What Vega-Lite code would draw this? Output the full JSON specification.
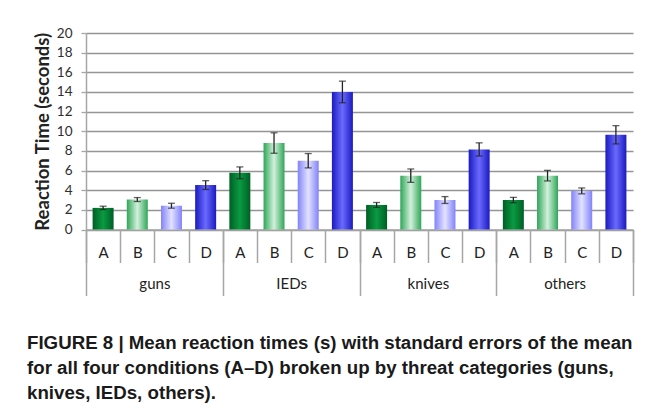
{
  "$schema": "https://vega.github.io/schema/vega-lite/v6.json",
  "width": 547,
  "height": 196.5,
  "padding": {"left": 27, "top": 26, "right": 10, "bottom": 5},
  "background": "white",
  "config": {"view": {"stroke": null}},
  "title": {
    "text": ["FIGURE 8 | Mean reaction times (s) with standard errors of the mean", "for all four conditions (A–D) broken up by threat categories (guns,", "knives, IEDs, others)."],
    "orient": "bottom",
    "anchor": "start",
    "frame": "group",
    "dx": -59,
    "offset": 38,
    "font": "Liberation Sans",
    "fontSize": 18.7,
    "fontWeight": "bold",
    "lineHeight": 25,
    "color": "#1a1a1a"
  },
  "data": {
    "values": [
      {"group": "guns", "cond": "A", "bar": "guns|A", "mean": 2.2, "se": 0.17},
      {"group": "guns", "cond": "B", "bar": "guns|B", "mean": 3.05, "se": 0.2},
      {"group": "guns", "cond": "C", "bar": "guns|C", "mean": 2.42, "se": 0.25},
      {"group": "guns", "cond": "D", "bar": "guns|D", "mean": 4.52, "se": 0.45},
      {"group": "IEDs", "cond": "A", "bar": "IEDs|A", "mean": 5.77, "se": 0.6},
      {"group": "IEDs", "cond": "B", "bar": "IEDs|B", "mean": 8.8, "se": 1.04},
      {"group": "IEDs", "cond": "C", "bar": "IEDs|C", "mean": 7.0, "se": 0.73},
      {"group": "IEDs", "cond": "D", "bar": "IEDs|D", "mean": 14.0, "se": 1.1},
      {"group": "knives", "cond": "A", "bar": "knives|A", "mean": 2.5, "se": 0.25},
      {"group": "knives", "cond": "B", "bar": "knives|B", "mean": 5.48, "se": 0.68},
      {"group": "knives", "cond": "C", "bar": "knives|C", "mean": 3.0, "se": 0.35},
      {"group": "knives", "cond": "D", "bar": "knives|D", "mean": 8.15, "se": 0.67},
      {"group": "others", "cond": "A", "bar": "others|A", "mean": 3.0, "se": 0.27},
      {"group": "others", "cond": "B", "bar": "others|B", "mean": 5.48, "se": 0.54},
      {"group": "others", "cond": "C", "bar": "others|C", "mean": 3.93, "se": 0.3},
      {"group": "others", "cond": "D", "bar": "others|D", "mean": 9.64, "se": 0.93}
    ]
  },
  "encoding": {
    "y": {
      "field": "mean", "type": "quantitative",
      "scale": {"domain": [0, 20], "nice": false},
      "axis": {
        "title": "Reaction Time (seconds)",
        "values": [0,2,4,6,8,10,12,14,16,18,20],
        "labelOverlap": false,
        "grid": true, "gridColor": "#959595", "gridWidth": 1.3,
        "domainColor": "#a6a6a6", "domainWidth": 1.5,
        "tickColor": "#a6a6a6", "tickWidth": 1.3, "tickSize": 5,
        "labelPadding": 9, "labelFont": "Lato", "labelFontSize": 13.5, "labelColor": "#2e2e2e",
        "titleFont": "Lato", "titleFontSize": 18.5, "titleFontWeight": "bold", "titleColor": "#222222", "titlePadding": 4
      }
    }
  },
  "layer": [
    {
      "encoding": {
        "x": {
          "field": "bar",
          "type": "nominal",
          "scale": {
            "domain": ["guns|A","guns|B","guns|C","guns|D","IEDs|A","IEDs|B","IEDs|C","IEDs|D","knives|A","knives|B","knives|C","knives|D","others|A","others|B","others|C","others|D"],
            "paddingInner": 0,
            "paddingOuter": 0
          },
          "axis": {
            "title": null,
            "orient": "bottom",
            "labelExpr": "split(datum.value,'|')[1]",
            "labelAngle": 0,
            "tickBand": "extent",
            "tickSize": 33,
            "labelPadding": -17,
            "labelFont": "Lato",
            "labelFontSize": 15,
            "labelFontWeight": "normal",
            "labelColor": "#222222",
            "domainColor": "#a6a6a6",
            "domainWidth": 1.5,
            "tickColor": "#a6a6a6",
            "tickWidth": 1.5,
            "grid": false
          }
        }
      },
      "layer": [
        {
          "transform": [{"filter": "datum.cond === 'A'"}],
          "mark": {"type": "bar", "width": {"band": 0.614}, "color": {"gradient": "linear", "x1": 0, "x2": 1, "y1": 0, "y2": 0, "stops": [{"offset": 0, "color": "#005f25"}, {"offset": 0.5, "color": "#0a9a42"}, {"offset": 1, "color": "#005f25"}]}}
        },
        {
          "transform": [{"filter": "datum.cond === 'B'"}],
          "mark": {"type": "bar", "width": {"band": 0.614}, "color": {"gradient": "linear", "x1": 0, "x2": 1, "y1": 0, "y2": 0, "stops": [{"offset": 0, "color": "#2fa657"}, {"offset": 0.5, "color": "#d2f1dc"}, {"offset": 1, "color": "#2fa657"}]}}
        },
        {
          "transform": [{"filter": "datum.cond === 'C'"}],
          "mark": {"type": "bar", "width": {"band": 0.614}, "color": {"gradient": "linear", "x1": 0, "x2": 1, "y1": 0, "y2": 0, "stops": [{"offset": 0, "color": "#8282fa"}, {"offset": 0.5, "color": "#e2e2ff"}, {"offset": 1, "color": "#8282fa"}]}}
        },
        {
          "transform": [{"filter": "datum.cond === 'D'"}],
          "mark": {"type": "bar", "width": {"band": 0.614}, "color": {"gradient": "linear", "x1": 0, "x2": 1, "y1": 0, "y2": 0, "stops": [{"offset": 0, "color": "#1a1ac0"}, {"offset": 0.5, "color": "#6a6aff"}, {"offset": 1, "color": "#1a1ac0"}]}}
        },
        {
          "mark": {"type": "errorbar", "ticks": {"size": 7, "thickness": 1.3, "color": "#222222"}, "rule": {"strokeWidth": 1.3, "color": "#222222"}},
          "encoding": {
            "yError": {"field": "se"}
          }
        }
      ]
    },
    {
      "mark": {"type": "point", "opacity": 0},
      "encoding": {
        "x": {
          "field": "group", "type": "nominal",
          "scale": {"domain": ["guns", "IEDs", "knives", "others"], "paddingInner": 0, "paddingOuter": 0},
          "axis": {
            "title": null, "orient": "bottom", "labelAngle": 0,
            "tickBand": "extent", "tickSize": 66, "labelPadding": -19,
            "domain": false,
            "labelFont": "Lato", "labelFontSize": 15, "labelColor": "#222222",
            "tickColor": "#a6a6a6", "tickWidth": 1.5
          }
        }
      }
    }
  ],
  "resolve": {"scale": {"x": "independent"}, "axis": {"x": "independent"}}
}
